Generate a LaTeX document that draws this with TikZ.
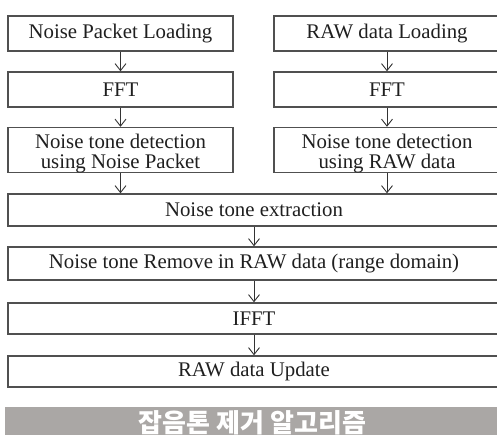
\documentclass[tikz,border=0pt]{standalone}
\usepackage{fontspec}
\setmainfont{Liberation Serif}
\newfontfamily\kofont{Noto Sans CJK KR}
\usepackage{tikz}
\usetikzlibrary{arrows.meta}
\definecolor{boxgray}{RGB}{80, 80, 80}
\definecolor{bannergray}{RGB}{170, 167, 165}
\newcommand{\lowstrut}{\rule{0pt}{20.5pt}}

\begin{document}
\begin{tikzpicture}[x=1pt, y=-1pt,
    box/.style={draw=boxgray, line width=1.4pt, rectangle, text=black!88,
        inner sep=0pt, font=\fontsize{20.8}{20}\selectfont, align=center},
    flow/.style={draw=black!80, line width=0.9pt,
        -{Straight Barb[length=7pt, width=11pt, line width=0.9pt]}}]
            \useasboundingbox (0, 0) rectangle (497, 435);
            \clip (0, 0) rectangle (497, 435);

            \pgfmathsetmacro{\leftCol}{120.5}
            \pgfmathsetmacro{\rightCol}{387}
            \pgfmathsetmacro{\midCol}{254}

            % two input branches
            \node[box, minimum width=225pt, minimum height=35pt] (load1) at (\leftCol, 33.5) {Noise Packet Loading};
            \node[box, minimum width=226pt, minimum height=35pt] (load2) at (\rightCol, 33.5) {RAW data Loading};

            \node[box, minimum width=225pt, minimum height=35pt] (fft1) at (\leftCol, 89.5) {FFT};
            \node[box, minimum width=226pt, minimum height=35pt] (fft2) at (\rightCol, 89.5) {FFT};

            \node[box, minimum width=225pt, minimum height=44pt] (det1) at (\leftCol, 150) {\lowstrut Noise tone detection\\using Noise Packet};
            \node[box, minimum width=226pt, minimum height=44pt] (det2) at (\rightCol, 150) {\lowstrut Noise tone detection\\using RAW data};

            % common part
            \node[box, minimum width=492pt, minimum height=32pt] (extr) at (\midCol, 210) {Noise tone extraction};
            \node[box, minimum width=492pt, minimum height=33pt] (remove) at (\midCol, 263.5) {Noise tone Remove in RAW data (range domain)};
            \node[box, minimum width=492pt, minimum height=31pt] (ifft) at (\midCol, 318.5) {IFFT};
            \node[box, minimum width=492pt, minimum height=31pt] (update) at (\midCol, 371.5) {RAW data Update};

            % caption bar
            \node[fill=bannergray, minimum width=495pt, minimum height=32pt, inner sep=0pt,
                text=white, font=\kofont\bfseries\fontsize{26}{28}\selectfont] (caption) at (252.5, 423) {잡음톤 제거 알고리즘};

            % arrows in each branch
            \foreach \i in {1, 2}{
                    \draw[flow] (load\i) -- (fft\i);
                    \draw[flow] (fft\i) -- (det\i);
                    \draw[flow] (det\i.south) -- (det\i.south |- extr.north);
                }

            \draw[flow] (extr) -- (remove);
            \draw[flow] (remove) -- (ifft);
            \draw[flow] (ifft) -- (update);

        \end{tikzpicture}
\end{document}
